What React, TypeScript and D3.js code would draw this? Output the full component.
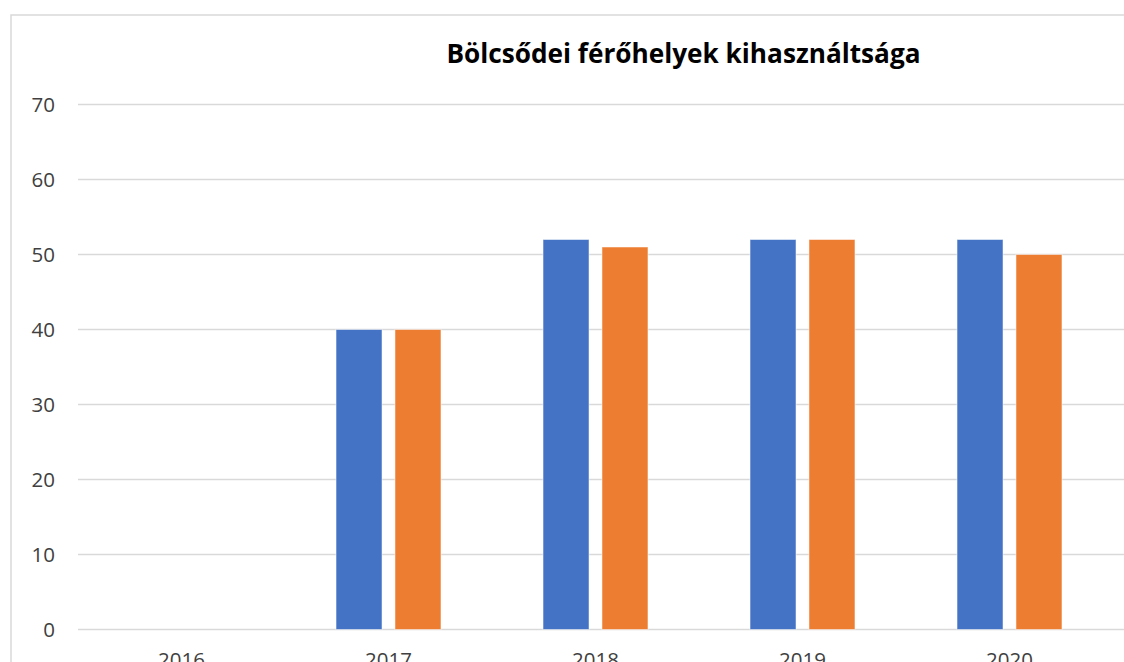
import React from "react";
import * as d3 from "d3";

const years = ["2016", "2017", "2018", "2019", "2020"];
const seriesNames = ["Sorozat1", "Sorozat2"];
const seriesA = [0, 40, 52, 52, 52];
const seriesB = [0, 40, 51, 52, 50];
const yTicks = [0, 10, 20, 30, 40, 50, 60, 70];
const colors = ["#4472C4", "#ED7D31"];
const title = "Bölcsődei férőhelyek kihasználtsága";

export default function App() {
  const W = 1124, H = 662;
  const x = d3.scaleBand<string>().domain(years).range([78, 1113]).paddingInner(0.493).paddingOuter(0.2465);
  const xs = d3.scaleBand<string>().domain(seriesNames).range([0, x.bandwidth()]).paddingInner(0.22);
  const y = d3.scaleLinear().domain([0, 70]).range([629.5, 104.5]);
  const data = [seriesA, seriesB];
  const font = "'Open Sans', sans-serif";
  return (
    <svg width={W} height={H} style={{ position: "absolute", left: 0, top: 0, background: "#fff" }}>
      <rect x={11} y={15} width={W + 20} height={H + 20} fill="#fff" stroke="#d9d9d9" strokeWidth={1.5} />
      <text x={683.5} y={63} textAnchor="middle" fontFamily={font} fontWeight="bold" fontSize={26.2} fill="#000">{title}</text>
      {yTicks.map(t => (
        <g key={t}>
          <line x1={78} x2={W + 10} y1={y(t)} y2={y(t)} stroke="#d9d9d9" strokeWidth={1.5} />
          <text x={55} y={y(t)} dy="0.36em" textAnchor="end" fontFamily={font} fontSize={20.5} fill="#404040">{t}</text>
        </g>
      ))}
      {years.map((yr, i) => (
        <g key={yr}>
          {data.map((s, j) => s[i] > 0 ? (
            <rect key={j} x={(x(yr) as number) + (xs(seriesNames[j]) as number)} y={y(s[i])} width={xs.bandwidth()} height={y(0) - y(s[i])} fill={colors[j]} stroke="#ffffff" strokeOpacity={0.5} strokeWidth={1} />
          ) : null)}
          <text x={(x(yr) as number) + x.bandwidth() / 2} y={667} textAnchor="middle" fontFamily={font} fontSize={20.5} fill="#404040">{yr}</text>
        </g>
      ))}
    </svg>
  );
}
